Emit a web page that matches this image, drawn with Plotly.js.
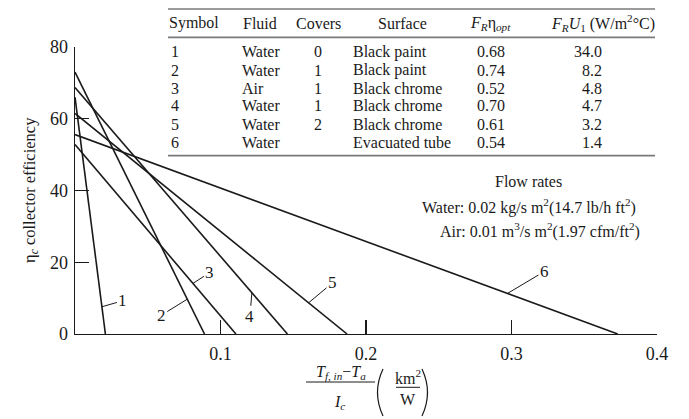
<!DOCTYPE html>
<html>
<head>
<meta charset="utf-8">
<script src="https://cdn.plot.ly/plotly-3.0.1.min.js"></script>
<style>html,body{margin:0;padding:0;background:#fff;}#chart{width:689px;height:419px;}</style>
</head>
<body>
<div id="chart"></div>
<script>
// ---------- data ----------
const symbols = ['1', '2', '3', '4', '5', '6'];
const fluids = ['Water', 'Water', 'Air', 'Water', 'Water', 'Water'];
const covers = ['0', '1', '1', '1', '2', ''];
const surfaces = ['Black paint', 'Black paint', 'Black chrome', 'Black chrome', 'Black chrome', 'Evacuated tube'];
const frEtaOpt = ['0.68', '0.74', '0.52', '0.70', '0.61', '0.54'];
const frU1 = ['34.0', '8.2', '4.8', '4.7', '3.2', '1.4'];
// efficiency (%) read at x = 0 and x where efficiency reaches 0
const etaAtZero = [66, 73, 52.8, 68.7, 61.5, 55.6];
const xAtZeroEta = [0.0209, 0.089, 0.1106, 0.146, 0.187, 0.373];
// efficiency level where each curve label's leader touches the line
const labelEta = [7.6, 9.7, 14.1, 11.5, 8.7, 11.3];
const xTicks = [0.1, 0.2, 0.3, 0.4];
const yTicks = [0, 20, 40, 60, 80];

// ---------- geometry helpers ----------
const L = 75, R = 657, T = 47, B = 334;
const px = x => (x - L) / (R - L);
const py = y => (B - y) / (B - T);
const FONT = 'Liberation Serif, Times New Roman, serif';
const INK = '#1a1a1a';

const traces = symbols.map((s, i) => ({
  type: 'scatter', mode: 'lines',
  x: [0, xAtZeroEta[i]], y: [etaAtZero[i], 0],
  line: {color: INK, width: 1.6},
  hoverinfo: 'skip', showlegend: false, cliponaxis: false
}));

const annotations = [];
const labelOffsets = [[21, -6], [-26, 16], [17, -11], [-2, 24], [24, -20], [37, -22]];
symbols.forEach((s, i) => {
  const yv = labelEta[i];
  const xv = xAtZeroEta[i] * (1 - yv / etaAtZero[i]);
  annotations.push({
    x: xv, y: yv, xref: 'x', yref: 'y', text: s,
    showarrow: true, arrowhead: 0, arrowwidth: 1, arrowcolor: INK, standoff: 0,
    ax: labelOffsets[i][0], ay: labelOffsets[i][1],
    font: {family: FONT, size: 17, color: INK}
  });
});

// table
function txt(text, x, y, anchor, size, extra) {
  annotations.push(Object.assign({
    text: text, x: px(x), y: py(y), xref: 'paper', yref: 'paper',
    xanchor: anchor, yanchor: 'middle', showarrow: false,
    font: {family: FONT, size: size || 16, color: INK}
  }, extra || {}));
}
const headY = 23.3;
txt('Symbol', 194.3, headY, 'center');
txt('Fluid', 260.3, headY, 'center');
txt('Covers', 318.3, headY, 'center');
txt('Surface', 402, headY, 'center');
txt('<i>F<sub>R</sub></i>η<sub><i>opt</i></sub>', 490, headY, 'center');
txt('<i>F<sub>R</sub>U</i><sub>1</sub> (W/m<sup>2</sup>°C)', 603, headY, 'center');
const rowY = [51.7, 70, 88.3, 105.9, 124.3, 142.3];
symbols.forEach((s, i) => {
  txt(symbols[i], 168.5, rowY[i], 'left');
  txt(fluids[i], 240, rowY[i], 'left');
  if (covers[i]) txt(covers[i], 318.3, rowY[i], 'center');
  txt(surfaces[i], 350.5, rowY[i], 'left');
  txt(frEtaOpt[i], 490.7, rowY[i], 'center');
  txt(frU1[i], 604, rowY[i], 'right');
});

// flow rates note
txt('Flow rates', 528.3, 181.7, 'center');
txt('Water: 0.02 kg/s m<sup>2</sup>(14.7 lb/h ft<sup>2</sup>)', 529, 206.7, 'center');
txt('Air: 0.01 m<sup>3</sup>/s m<sup>2</sup>(1.97 cfm/ft<sup>2</sup>)', 540, 230, 'center');

// y-axis title
txt('η<sub><i>c</i></sub> collector efficiency', 30, 190, 'center', 16.5, {textangle: -90});

// x-axis title (fraction)
txt('<i>T<sub>f, in</sub></i>−<i>T<sub>a</sub></i>', 340.5, 372, 'center', 16);
txt('<i>I<sub>c</sub></i>', 339, 402, 'center', 16);
txt('km<sup>2</sup>', 407.5, 376.5, 'center', 16);
txt('W', 407.5, 400, 'center', 16);

const rule = (x0, x1, y, w, c) => ({
  type: 'line', xref: 'paper', yref: 'paper',
  x0: px(x0), x1: px(x1), y0: py(y), y1: py(y),
  line: {color: c, width: w}
});
const paren = (xEnd, xMid, y0, y1) => ({
  type: 'path', xref: 'paper', yref: 'paper',
  path: 'M ' + px(xEnd) + ',' + py(y0) + ' Q ' + px(xMid) + ',' + py((y0 + y1) / 2) +
        ' ' + px(xEnd) + ',' + py(y1),
  line: {color: INK, width: 1.2}
});
const shapes = [
  rule(168, 655, 9, 1.6, '#7a7a7a'),
  rule(168, 655, 37.3, 1.8, '#7a7a7a'),
  rule(168, 655, 155.7, 1.8, '#7a7a7a'),
  rule(306, 375, 382, 1, INK),
  rule(396, 420, 387.3, 1, INK),
  paren(383, 372, 369, 416),
  paren(422, 433, 369, 416)
];

const layout = {
  width: 689, height: 419,
  margin: {l: L, r: 689 - R, t: T, b: 419 - B, pad: 0},
  paper_bgcolor: '#fff', plot_bgcolor: '#fff',
  showlegend: false,
  font: {family: FONT, color: INK},
  xaxis: {
    range: [0, 0.4], tickvals: xTicks, ticktext: xTicks.map(v => v.toFixed(1)),
    ticks: 'inside', ticklen: 14, tickwidth: 1.1, tickcolor: INK,
    showline: true, linecolor: INK, linewidth: 1.3,
    showgrid: false, zeroline: false, fixedrange: true,
    tickfont: {family: FONT, size: 18, color: INK}, ticklabelstandoff: 3
  },
  yaxis: {
    range: [0, 80], tickvals: yTicks, ticktext: yTicks.map(String),
    ticks: 'inside', ticklen: 14, tickwidth: 1.1, tickcolor: INK,
    showline: true, linecolor: INK, linewidth: 1.3,
    showgrid: false, zeroline: false, fixedrange: true,
    tickfont: {family: FONT, size: 18, color: INK}, ticklabelstandoff: 2
  },
  annotations: annotations,
  shapes: shapes
};

Plotly.newPlot('chart', traces, layout, {displayModeBar: false, staticPlot: true});
</script>
</body>
</html>
